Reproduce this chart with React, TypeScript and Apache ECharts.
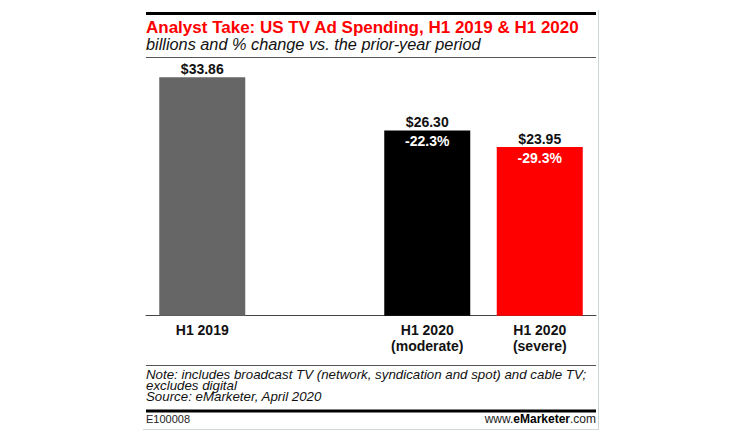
import React, { useEffect, useRef } from "react";
import * as echarts from "echarts";

const categories = ["H1 2019", "", "H1 2020\n(moderate)", "H1 2020\n(severe)"];
const spending = [33.86, null, 26.3, 23.95];
const pctChange = [null, null, -22.3, -29.3];
const barColors = ["#666666", "#666666", "#000000", "#ff0000"];

const titleText = "Analyst Take: US TV Ad Spending, H1 2019 & H1 2020";
const subtitleText = "billions and % change vs. the prior-year period";
const noteLines = [
  "Note: includes broadcast TV (network, syndication and spot) and cable TV;",
  "excludes digital",
  "Source: eMarketer, April 2020",
];
const codeText = "E100008";

const FONT = "'Liberation Sans', Arial, sans-serif";

export default function App() {
  const ref = useRef<HTMLDivElement>(null);
  useEffect(() => {
    if (!ref.current) return;
    const chart = echarts.init(ref.current, null, { renderer: "svg" });
    const L = 146;
    const R = 596;
    const W = R - L;
    chart.setOption({
      animation: false,
      backgroundColor: "#ffffff",
      textStyle: { fontFamily: FONT },
      grid: { left: L, right: 750 - R, top: 34, bottom: 123.3, containLabel: false },
      xAxis: {
        type: "category",
        data: categories,
        axisLine: { show: true, lineStyle: { color: "#444", width: 1 } },
        axisTick: { show: false },
        axisLabel: {
          interval: 0,
          margin: 6,
          color: "#111",
          fontFamily: FONT,
          fontWeight: "bold",
          fontSize: 14,
          lineHeight: 16,
        },
      },
      yAxis: {
        type: "value",
        min: 0,
        max: 40,
        show: false,
        splitLine: { show: false },
      },
      series: [
        {
          type: "bar",
          barWidth: 86,
          data: spending.map((v, i) => ({ value: v, itemStyle: { color: barColors[i] } })),
          label: {
            show: true,
            position: "top",
            distance: 1,
            color: "#111",
            fontFamily: FONT,
            fontWeight: "bold",
            fontSize: 14,
            formatter: (p: any) => (p.value == null ? "" : "$" + Number(p.value).toFixed(2)),
          },
          z: 2,
        },
        {
          type: "bar",
          barWidth: 86,
          barGap: "-100%",
          data: spending.map((v) => v),
          itemStyle: { color: "rgba(0,0,0,0)" },
          label: {
            show: true,
            position: "insideTop",
            distance: 4,
            color: "#ffffff",
            fontFamily: FONT,
            fontWeight: "bold",
            fontSize: 14,
            formatter: (p: any) => {
              const c = pctChange[p.dataIndex];
              return c == null ? "" : c.toFixed(1) + "%";
            },
          },
          z: 3,
        },
      ],
      graphic: [
        { type: "rect", shape: { x: L, y: 12, width: W, height: 3 }, style: { fill: "#000" } },
        {
          type: "text",
          x: L,
          y: 27,
          style: {
            text: titleText,
            fill: "#ff0000",
            font: `bold 17px ${FONT}`,
            textVerticalAlign: "middle",
          },
        },
        {
          type: "text",
          x: L,
          y: 44,
          style: {
            text: subtitleText,
            fill: "#111",
            font: `italic 16.3px ${FONT}`,
            textVerticalAlign: "middle",
          },
        },
        { type: "rect", shape: { x: L, y: 57, width: W, height: 1 }, style: { fill: "#555" } },
        { type: "rect", shape: { x: L, y: 365, width: W, height: 1 }, style: { fill: "#555" } },
        {
          type: "text",
          x: L,
          y: 368.3,
          style: {
            text: noteLines.join("\n"),
            fill: "#111",
            fontFamily: FONT,
            fontStyle: "italic",
            fontSize: 13.3,
            lineHeight: 11.4,
            verticalAlign: "top",
          },
        },
        { type: "rect", shape: { x: L, y: 409.5, width: W, height: 3 }, style: { fill: "#000" } },
        {
          type: "text",
          x: L,
          y: 418.5,
          style: { text: codeText, fill: "#222", font: `11px ${FONT}`, textVerticalAlign: "middle" },
        },
        {
          type: "text",
          x: R,
          y: 418.5,
          style: {
            text: "{n|www.}{e|e}{b|Marketer}{n|.com}",
            align: "right",
            verticalAlign: "middle",
            rich: {
              n: { fontFamily: FONT, fontSize: 12, fill: "#222", color: "#222" },
              e: { fontFamily: FONT, fontSize: 12, fontWeight: "bold", color: "#ff0000" },
              b: { fontFamily: FONT, fontSize: 12, fontWeight: "bold", color: "#111" },
            },
          },
        },
        { type: "rect", shape: { x: 598, y: 10, width: 1, height: 420 }, style: { fill: "#cfd8d8" } },
        { type: "rect", shape: { x: 143, y: 429, width: 456, height: 1 }, style: { fill: "#cfd8d8" } },
      ],
    });
    return () => chart.dispose();
  }, []);
  return <div ref={ref} style={{ width: 750, height: 439, position: "absolute", left: 0, top: 0 }} />;
}
